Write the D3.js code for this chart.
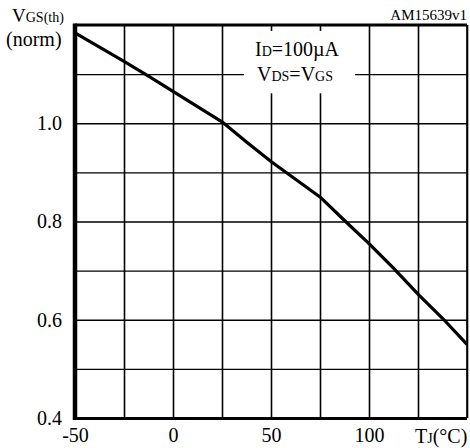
<!DOCTYPE html>
<html>
<head>
<meta charset="utf-8">
<script src="https://cdn.jsdelivr.net/npm/d3@7"></script>
<style>
  body { margin: 0; background: #fff; }
  text { font-family: "Liberation Serif", "Times New Roman", serif; fill: #000; }
</style>
</head>
<body>
<div id="chart-area"></div>
<script>
// data (Tj in °C, normalised VGS(th))
var temps = [-50, -37.5, -25, -12.5, 0, 12.5, 25, 37.5, 50, 62.5, 75, 87.5, 100, 112.5, 125, 137.5, 150];
var vgsNorm = [1.184, 1.155, 1.126, 1.096, 1.065, 1.034, 1.003, 0.962, 0.922, 0.886, 0.850, 0.802, 0.755, 0.705, 0.652, 0.603, 0.550];
var xTickLabels = [-50, 0, 50, 100];
var yTickLabels = [0.4, 0.6, 0.8, 1.0];
var xGrid = [-25, 0, 25, 50, 75, 100, 125, 150];
var yGrid = [0.5, 0.6, 0.7, 0.8, 0.9, 1.0, 1.1];

var margin = { left: 75, right: 3, top: 25, bottom: 30 };
var width = 470 - margin.left - margin.right;
var height = 448 - margin.top - margin.bottom;

var svg = d3.select("#chart-area")
  .append("svg")
  .attr("width", 470)
  .attr("height", 448);

var g = svg.append("g")
  .attr("transform", "translate(" + margin.left + "," + margin.top + ")");

// Scales
var x = d3.scaleLinear().domain([-50, 150]).range([0, width]);
var y = d3.scaleLinear().domain([0.4, 1.2]).range([height, 0]);

// Grid
g.append("g")
  .attr("class", "grid")
  .attr("transform", "translate(0," + height + ")")
  .call(d3.axisBottom(x).tickValues(xGrid).tickSize(-height).tickFormat(""))
  .call(function(s) { s.select(".domain").remove(); })
  .selectAll("line")
  .attr("stroke", "#000")
  .attr("stroke-width", 1.6);

g.append("g")
  .attr("class", "grid")
  .call(d3.axisLeft(y).tickValues(yGrid).tickSize(-width).tickFormat(""))
  .call(function(s) { s.select(".domain").remove(); })
  .selectAll("line")
  .attr("stroke", "#000")
  .attr("stroke-width", 1.4);

// white box behind the conditions note
g.append("rect")
  .attr("x", x(36.2))
  .attr("y", y(1.188))
  .attr("width", x(92.9) - x(36.2))
  .attr("height", y(1.061) - y(1.188))
  .attr("fill", "#fff");

// Frame
g.append("line").attr("x1", 0).attr("x2", width).attr("y1", 0).attr("y2", 0)
  .attr("stroke", "#000").attr("stroke-width", 3);
g.append("line").attr("x1", width).attr("x2", width).attr("y1", 0).attr("y2", height)
  .attr("stroke", "#000").attr("stroke-width", 1.6);
g.append("line").attr("x1", 0).attr("x2", width).attr("y1", height + 0.5).attr("y2", height + 0.5)
  .attr("stroke", "#000").attr("stroke-width", 3.2);
g.append("line").attr("x1", 0).attr("x2", 0).attr("y1", -1.5).attr("y2", height + 2)
  .attr("stroke", "#000").attr("stroke-width", 4.5);

// Axis labels
var xAxis = g.append("g")
  .attr("transform", "translate(0," + height + ")")
  .call(d3.axisBottom(x).tickValues(xTickLabels).tickSize(0).tickPadding(10)
    .tickFormat(function(d) { return String(d); }));
xAxis.select(".domain").remove();
xAxis.selectAll("text")
  .attr("font-size", "20px")
  .style("font-family", "Liberation Serif");

var yAxis = g.append("g")
  .call(d3.axisLeft(y).tickValues(yTickLabels).tickSize(0).tickPadding(13).tickFormat(d3.format(".1f")));
yAxis.select(".domain").remove();
yAxis.selectAll("text")
  .attr("font-size", "20px")
  .style("font-family", "Liberation Serif");

// Curve
var line = d3.line()
  .x(function(d, i) { return x(temps[i]); })
  .y(function(d) { return y(d); });

g.append("path")
  .datum(vgsNorm)
  .attr("fill", "none")
  .attr("stroke", "#000")
  .attr("stroke-width", 3.2)
  .attr("stroke-linejoin", "round")
  .attr("d", line);

// Y title
var yt = svg.append("text").attr("x", 12).attr("y", 22);
yt.append("tspan").attr("font-size", "19px").text("V");
yt.append("tspan").attr("font-size", "14px").text("GS(th)");

svg.append("text")
  .attr("x", 6)
  .attr("y", 46)
  .attr("font-size", "20px")
  .text("(norm)");

// X title
var xt = svg.append("text").attr("x", 415).attr("y", 443);
xt.append("tspan").attr("font-size", "20px").text("T");
xt.append("tspan").attr("font-size", "14px").text("J");
xt.append("tspan").attr("font-size", "20px").text("(°C)");

// Figure id
svg.append("text")
  .attr("x", 467)
  .attr("y", 20)
  .attr("text-anchor", "end")
  .attr("font-size", "15px")
  .text("AM15639v1");

// Conditions
var c1 = svg.append("text").attr("x", 297).attr("y", 56).attr("text-anchor", "middle");
c1.append("tspan").attr("font-size", "20px").text("I");
c1.append("tspan").attr("font-size", "14px").text("D");
c1.append("tspan").attr("font-size", "20px").text("=100µA");

var c2 = svg.append("text").attr("x", 295).attr("y", 81).attr("text-anchor", "middle");
c2.append("tspan").attr("font-size", "20px").text("V");
c2.append("tspan").attr("font-size", "14px").text("DS");
c2.append("tspan").attr("font-size", "20px").text("=V");
c2.append("tspan").attr("font-size", "14px").text("GS");
</script>
</body>
</html>
